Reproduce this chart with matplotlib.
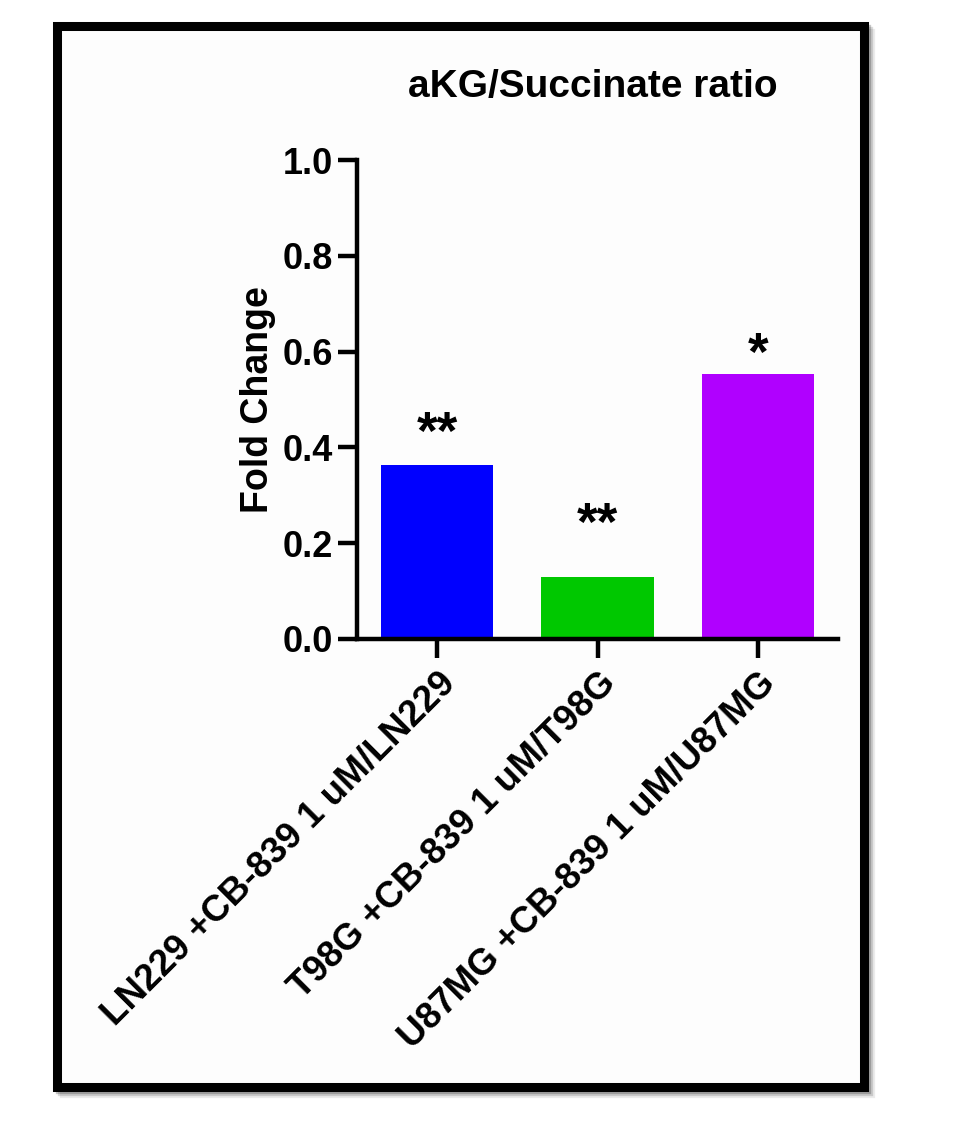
import matplotlib.pyplot as plt
from matplotlib.patches import Rectangle

plt.rcParams["font.family"] = ["Liberation Sans", "DejaVu Sans"]

groups = ["LN229 +CB-839 1 uM/LN229", "T98G +CB-839 1 uM/T98G", "U87MG +CB-839 1 uM/U87MG"]
fold_change = [0.363, 0.129, 0.553]
stars = ["**", "**", "*"]
star_y = [0.425, 0.235, 0.59]
colors = ["#0000ff", "#00c800", "#b000ff"]
yticks = [0.0, 0.2, 0.4, 0.6, 0.8, 1.0]

W, H = 957, 1132
fig = plt.figure(figsize=(W / 100, H / 100), dpi=100)

# framed border with drop shadow
for off, a in [(7, 0.08), (5, 0.14), (3, 0.22)]:
    fig.patches.append(Rectangle(((57 + off) / W, 1 - (1087 + off) / H), 807 / W, 1061 / H,
                                 transform=fig.transFigure, facecolor="none",
                                 edgecolor=(0, 0, 0, a), linewidth=6, zorder=0))
fig.patches.append(Rectangle((57 / W, 1 - 1087 / H), 807 / W, 1061 / H,
                             transform=fig.transFigure, facecolor="#fdfdfd",
                             edgecolor="black", linewidth=6.5, zorder=1))

ax = fig.add_axes([357 / W, 1 - 639 / H, 481 / W, 479 / H])
ax.set_zorder(3)
ax.set_facecolor("none")
x = range(len(groups))
ax.bar(x, fold_change, width=0.7, color=colors)
for i, s in enumerate(stars):
    ax.text(i, star_y[i], s, ha="center", va="center", fontsize=38, fontweight="bold")

ax.set_xlim(-0.5, 2.5)
ax.set_ylim(0, 1.0)
ax.set_yticks(yticks)
ax.set_yticklabels([f"{v:.1f}" for v in yticks], fontsize=26, fontweight="bold")
ax.set_xticks(list(x))
ax.set_xticklabels(groups, rotation=45, ha="right", rotation_mode="anchor",
                   fontsize=26.5, fontweight="bold")
ax.spines["top"].set_visible(False)
ax.spines["right"].set_visible(False)
ax.spines["left"].set_linewidth(3.2)
ax.spines["bottom"].set_linewidth(3.2)
ax.tick_params(axis="both", width=3.2, length=14)
ax.tick_params(axis="y", pad=3)
ax.tick_params(axis="x", pad=5)
ax.set_ylabel("Fold Change", fontsize=27, fontweight="bold", labelpad=5)
fig.text(593 / W, 1 - 87 / H, "aKG/Succinate ratio", ha="center", va="center",
         fontsize=28, fontweight="bold")

fig.savefig("out.png", dpi=100)
